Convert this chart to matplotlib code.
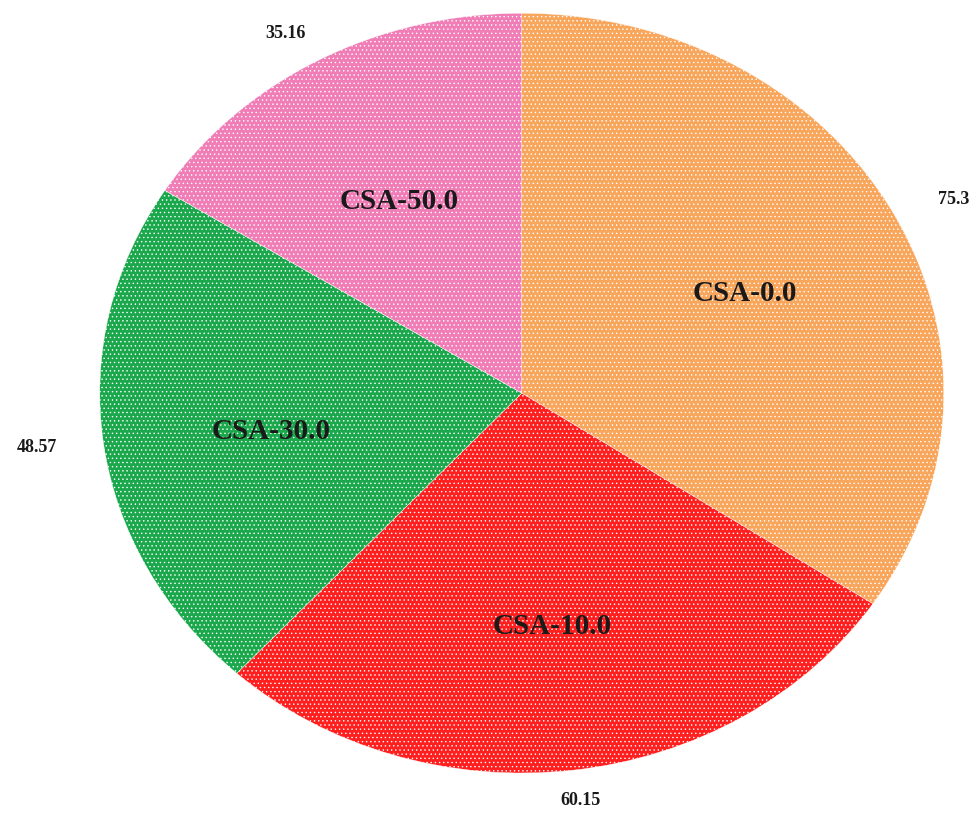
import numpy as np
import matplotlib
matplotlib.use("Agg")
import matplotlib.pyplot as plt

names = ["CSA-0.0", "CSA-10.0", "CSA-30.0", "CSA-50.0"]
values = [75.3, 60.15, 48.57, 35.16]
value_labels = ["75.3", "60.15", "48.57", "35.16"]
colors = ["#F8A65C", "#FF1F1F", "#1BA84C", "#F07DB6"]

plt.rcParams['hatch.color'] = 'white'
plt.rcParams['hatch.linewidth'] = 0.5

fig = plt.figure(figsize=(9.78, 8.25), dpi=100)
ax = fig.add_axes([0.102, 0.063, 0.863, 0.921])

wedges, _ = ax.pie(values, colors=colors, startangle=90, counterclock=False,
                   wedgeprops=dict(edgecolor='white', linewidth=0.3, hatch='....'))
ax.set_aspect('auto')
ax.set_xlim(-1, 1)
ax.set_ylim(-1, 1)

font = dict(family=['Liberation Serif', 'DejaVu Serif'], fontweight='bold', color='#1a1a1a')
for w, name, lab in zip(wedges, names, value_labels):
    mid = np.deg2rad((w.theta1 + w.theta2) / 2)
    ax.text(0.6 * np.cos(mid), 0.6 * np.sin(mid) - 0.02, name, ha='center', va='center',
            fontsize=21, **font)
    ax.text(1.16 * np.cos(mid), 1.08 * np.sin(mid), lab, ha='center', va='center',
            fontsize=13, **font)

fig.savefig("out.png", dpi=100)
